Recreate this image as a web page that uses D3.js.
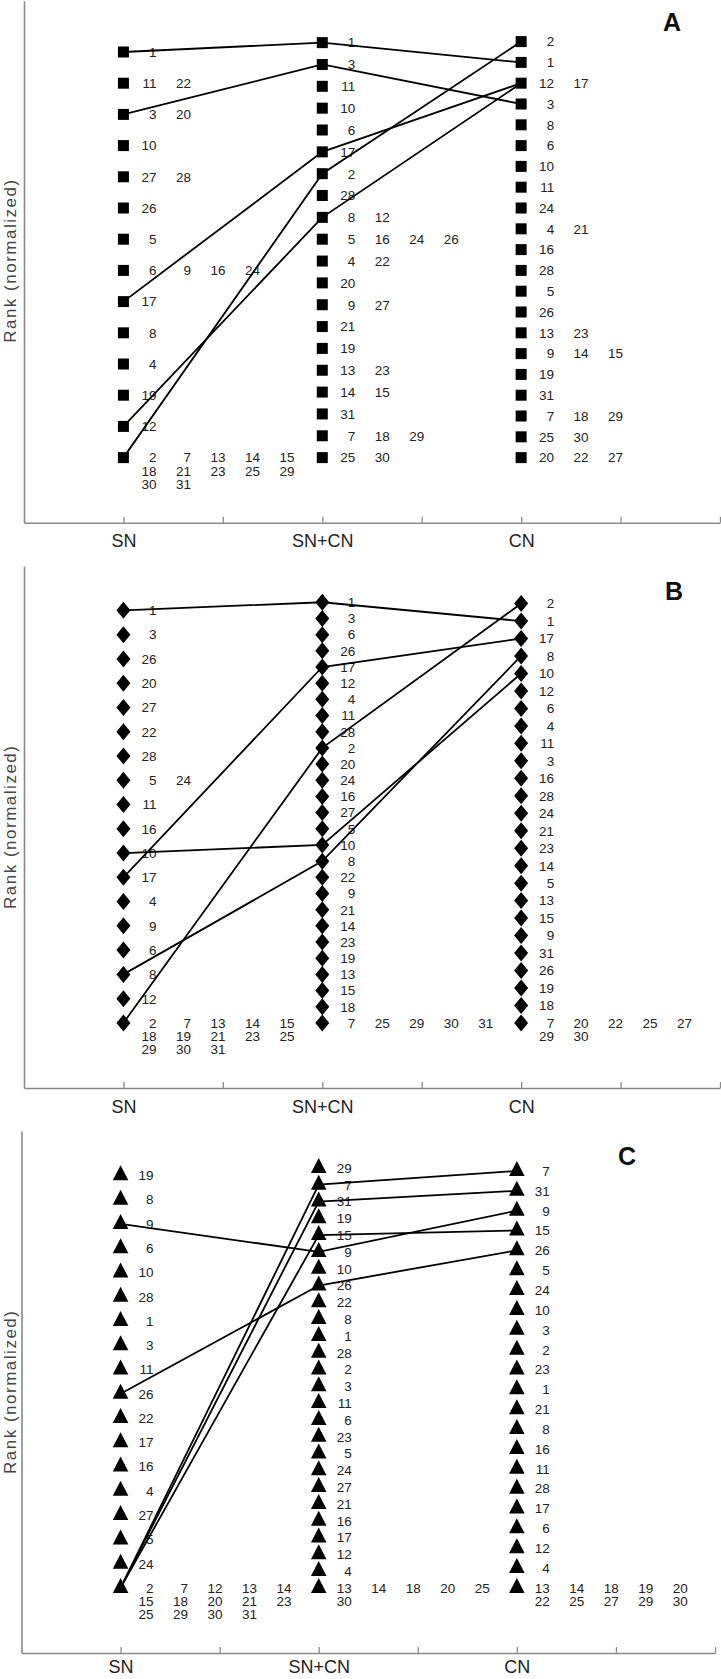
<!DOCTYPE html>
<html>
<head>
<meta charset="utf-8">
<script src="https://cdn.jsdelivr.net/npm/d3@7"></script>
<style>
  html, body { margin: 0; padding: 0; background: #fff; }
  svg { display: block; }
  text { font-family: "Liberation Sans", Arial, sans-serif; }
</style>
</head>
<body>
<svg id="chart" width="721" height="1679"></svg>
<script>
// ---------- data ----------
const categories = ["SN", "SN+CN", "CN"];
const tickPositions = [1, 1.5, 2, 2.5, 3, 3.5, 4];
const yLabel = "Rank (normalized)";
const panelLetters = ["A", "B", "C"];

// rank groups, top (best) to bottom, for each condition
const rankA_SN = [[1],[11,22],[3,20],[10],[27,28],[26],[5],[6,9,16,24],[17],[8],[4],[19],[12],
  [2,7,13,14,15,18,21,23,25,29,30,31]];
const rankA_SNCN = [[1],[3],[11],[10],[6],[17],[2],[28],[8,12],[5,16,24,26],[4,22],[20],[9,27],[21],[19],
  [13,23],[14,15],[31],[7,18,29],[25,30]];
const rankA_CN = [[2],[1],[12,17],[3],[8],[6],[10],[11],[24],[4,21],[16],[28],[5],[26],[13,23],[9,14,15],
  [19],[31],[7,18,29],[25,30],[20,22,27]];
const highlightA = [1, 3, 17, 2, 12];

const rankB_SN = [[1],[3],[26],[20],[27],[22],[28],[5,24],[11],[16],[10],[17],[4],[9],[6],[8],[12],
  [2,7,13,14,15,18,19,21,23,25,29,30,31]];
const rankB_SNCN = [[1],[3],[6],[26],[17],[12],[4],[11],[28],[2],[20],[24],[16],[27],[5],[10],[8],[22],
  [9],[21],[14],[23],[19],[13],[15],[18],[7,25,29,30,31]];
const rankB_CN = [[2],[1],[17],[8],[10],[12],[6],[4],[11],[3],[16],[28],[24],[21],[23],[14],[5],[13],
  [15],[9],[31],[26],[19],[18],[7,20,22,25,27,29,30]];
const highlightB = [1, 17, 2, 10, 8];

const rankC_SN = [[19],[8],[9],[6],[10],[28],[1],[3],[11],[26],[22],[17],[16],[4],[27],[5],[24],
  [2,7,12,13,14,15,18,20,21,23,25,29,30,31]];
const rankC_SNCN = [[29],[7],[31],[19],[15],[9],[10],[26],[22],[8],[1],[28],[2],[3],[11],[6],[23],[5],
  [24],[27],[21],[16],[17],[12],[4],[13,14,18,20,25,30]];
const rankC_CN = [[7],[31],[9],[15],[26],[5],[24],[10],[3],[2],[23],[1],[21],[8],[16],[11],[28],[17],
  [6],[12],[4],[13,14,18,19,20,22,25,27,29,30]];
const highlightC = [9, 26, 7, 31, 15];

// ---------- layout ----------
const panels = [
  { letter: "A", cols: [rankA_SN, rankA_SNCN, rankA_CN], hl: highlightA, shape: "square",
    top: 0, axisY: 522.7, x0: 24, x1: 720, letterX: 672, letterY: 31, pad: 12 },
  { letter: "B", cols: [rankB_SN, rankB_SNCN, rankB_CN], hl: highlightB, shape: "diamond",
    top: 567, axisY: 1088, x0: 24, x1: 720, letterX: 674, letterY: 600, pad: 12 },
  { letter: "C", cols: [rankC_SN, rankC_SNCN, rankC_CN], hl: highlightC, shape: "triangle",
    top: 1132, axisY: 1653, x0: 21.5, x1: 715, letterX: 627, letterY: 1165, pad: 7 }
];

const svg = d3.select("#chart");

function shapePath(shape) {
  if (shape === "square") return "M-5.5,-5.5H5.5V5.5H-5.5Z";
  if (shape === "diamond") return "M0,-8.5L7,0L0,8.5L-7,0Z";
  return "M0,-10L7.8,5L-7.8,5Z";
}

panels.forEach(p => {
  const g = svg.append("g");
  const x = d3.scaleLinear().domain([0.5, 4]).range([p.x0, p.x1]);
  const y = d3.scaleLinear().domain([-0.149, 1.046]).range([p.axisY, p.axisY - 522]);

  // y axis (line only)
  const yAx = g.append("g").attr("transform", `translate(${p.x0},0)`)
    .call(d3.axisLeft(y).tickValues([]).tickSizeOuter(0));
  yAx.select(".domain").attr("stroke", "#8a8a8a").attr("stroke-width", 1.6);

  // x axis
  const xAx = g.append("g").attr("transform", `translate(0,${p.axisY})`)
    .call(d3.axisBottom(x).tickValues(tickPositions).tickSizeInner(-6).tickSizeOuter(0)
      .tickPadding(p.pad)
      .tickFormat(d => Number.isInteger(d) && d <= 3 ? categories[d - 1] : ""));
  xAx.select(".domain").attr("stroke", "#8a8a8a").attr("stroke-width", 1.6);
  xAx.selectAll(".tick line").attr("stroke", "#8a8a8a").attr("stroke-width", 1.3);
  xAx.selectAll(".tick text").attr("font-size", 18).attr("fill", "#222")
    .attr("font-family", "Liberation Sans, Arial, sans-serif");

  // y label
  g.append("text")
    .attr("transform", `translate(16,${(p.top + p.axisY) / 2}) rotate(-90)`)
    .attr("text-anchor", "middle")
    .attr("font-size", 17).attr("fill", "#444")
    .attr("textLength", 163).attr("lengthAdjust", "spacing")
    .text(yLabel);

  // panel letter
  g.append("text").attr("x", p.letterX).attr("y", p.letterY)
    .attr("text-anchor", "middle").attr("font-size", 25).attr("font-weight", "bold")
    .attr("fill", "#111").text(p.letter);

  // rows -> points
  const rows = [];
  p.cols.forEach((col, ci) => {
    const n = col.length;
    col.forEach((items, ri) => {
      rows.push({ ci, items, value: (n - 1 - ri) / n });
    });
  });

  // labels
  rows.forEach(r => {
    const cx = x(r.ci + 1), cy = y(r.value);
    r.items.forEach((it, k) => {
      const colK = k % 5, lineK = Math.floor(k / 5);
      g.append("text")
        .attr("x", cx + 33 + colK * 34.5)
        .attr("y", cy + lineK * 13.3)
        .attr("dy", "0.36em")
        .attr("text-anchor", "end")
        .attr("font-size", 13.5).attr("fill", "#222")
        .text(it);
    });
  });

  // connecting lines for highlighted items
  const line = d3.line().x(d => d[0]).y(d => d[1]);
  p.hl.forEach(id => {
    const pts = [0, 1, 2].map(ci => {
      const r = rows.find(rr => rr.ci === ci && rr.items.includes(id));
      return [x(ci + 1), y(r.value)];
    });
    g.append("path").attr("d", line(pts)).attr("fill", "none")
      .attr("stroke", "#000").attr("stroke-width", 1.8);
  });

  // markers
  g.selectAll(".mk").data(rows).enter().append("path")
    .attr("class", "mk")
    .attr("transform", r => `translate(${x(r.ci + 1)},${y(r.value)})`)
    .attr("d", shapePath(p.shape))
    .attr("fill", "#000");
});
</script>
</body>
</html>
